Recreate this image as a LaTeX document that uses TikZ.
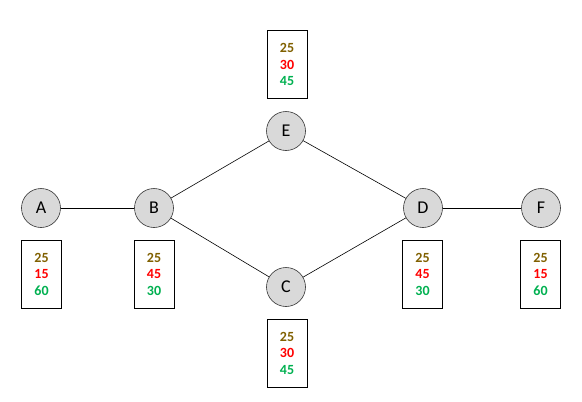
\documentclass[tikz,border=0pt]{standalone}
\usepackage{fontspec}
\setmainfont{Carlito}
\definecolor{cbrown}{HTML}{806000}
\definecolor{cred}{HTML}{FF0000}
\definecolor{cgreen}{HTML}{00B050}
\definecolor{cfill}{HTML}{D9D9D9}
\begin{document}
\begin{tikzpicture}[x=1pt,y=-1pt,
  vertex/.style={circle,draw=black!80,fill=cfill,line width=0.6pt,minimum size=39pt,inner sep=0pt,font=\fontsize{18}{20}\selectfont},
  valbox/.style={draw=black,line width=0.8pt,minimum width=40pt,minimum height=68pt,inner sep=0pt,align=center,font=\bfseries\fontsize{14}{16.5}\selectfont},
  edge/.style={draw=black,line width=0.6pt}]
\useasboundingbox (0,0) rectangle (582,402);
\node[vertex] (A) at (41,208) {A};
\node[vertex] (B) at (154,208) {B};
\node[vertex] (E) at (286,131) {E};
\node[vertex] (C) at (286,287) {C};
\node[vertex] (D) at (423,208) {D};
\node[vertex] (F) at (541,208) {F};
\draw[edge] (A) -- (B);
\draw[edge] (B) -- (E);
\draw[edge] (B) -- (C);
\draw[edge] (E) -- (D);
\draw[edge] (C) -- (D);
\draw[edge] (D) -- (F);
\newcommand{\vals}[3]{\textcolor{cbrown}{#1}\\\textcolor{cred}{#2}\\\textcolor{cgreen}{#3}}
\node[valbox] (bA) at (41.5,274) {\vals{25}{15}{60}};
\node[valbox] (bB) at (154,274) {\vals{25}{45}{30}};
\node[valbox] (bE) at (287,64.5) {\vals{25}{30}{45}};
\node[valbox] (bC) at (287,353) {\vals{25}{30}{45}};
\node[valbox] (bD) at (422.5,274) {\vals{25}{45}{30}};
\node[valbox] (bF) at (540.5,274) {\vals{25}{15}{60}};
\end{tikzpicture}
\end{document}
